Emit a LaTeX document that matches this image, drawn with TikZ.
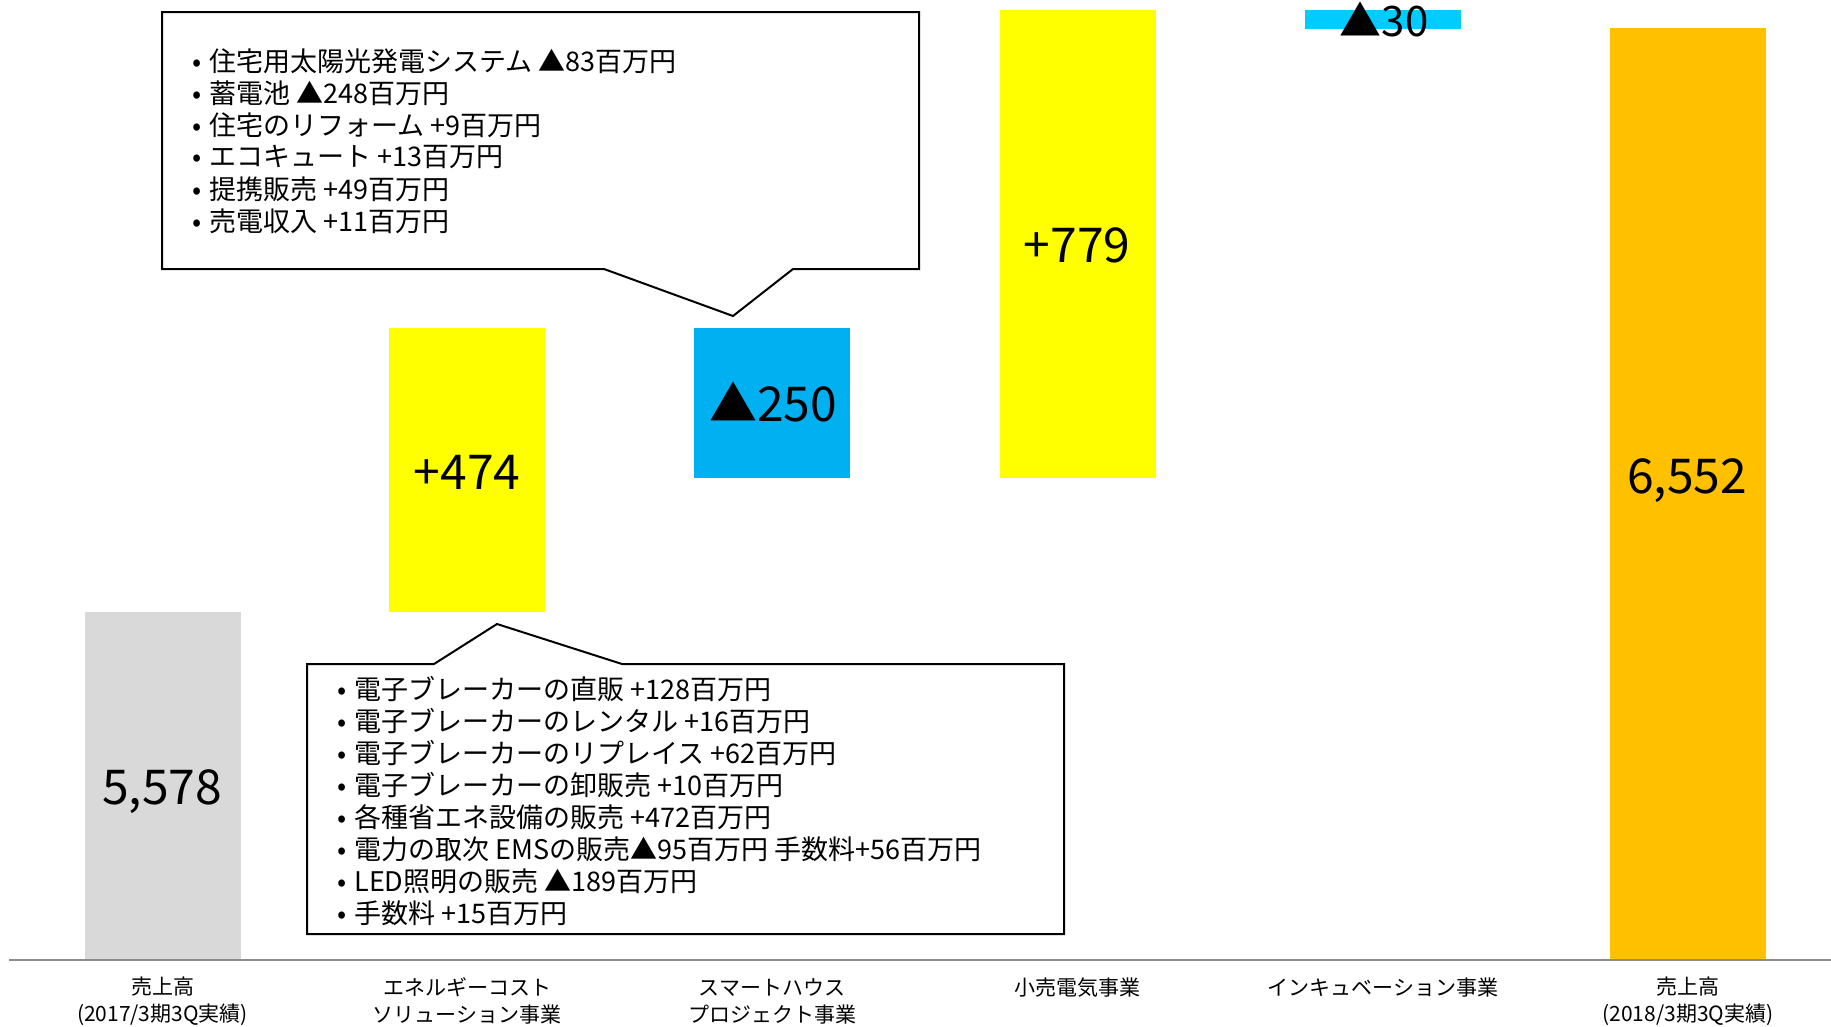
\documentclass[tikz,border=0pt]{standalone}
\usepackage{fontspec}
\setmainfont{Noto Sans CJK JP}
\definecolor{barGray}{HTML}{D9D9D9}
\definecolor{barYellow}{HTML}{FFFF00}
\definecolor{barBlue}{HTML}{00B0F0}
\definecolor{barCyan}{HTML}{00CCFF}
\definecolor{barOrange}{HTML}{FFC000}
\definecolor{axisGray}{HTML}{8C8C8C}
\begin{document}
\begin{tikzpicture}[x=1pt,y=-1pt,
  bar/.style={draw=none,inner sep=0pt,minimum width=156pt},
  num/.style={font=\fontsize{48}{52}\selectfont,inner sep=0pt},
  cat/.style={font=\fontsize{21}{27}\selectfont,align=center,inner sep=0pt},
  item/.style={font=\fontsize{27}{30}\selectfont,anchor=west,inner sep=0pt},
  callout/.style={draw=black,line width=2pt,fill=white,line join=miter},
  axisline/.style={draw=axisGray,line width=2.5pt}]
\useasboundingbox (0,0) rectangle (1831,1026);
% bars
\node[bar,fill=barGray,minimum height=348pt] (b1) at (162.5,786) {};
\node[bar,fill=barYellow,minimum height=284pt] (b2) at (467,470) {};
\node[bar,fill=barBlue,minimum height=150pt] (b3) at (772,403) {};
\node[bar,fill=barYellow,minimum height=468pt] (b4) at (1077.5,244) {};
\node[bar,fill=barCyan,minimum height=19pt] (b5) at (1383,19.5) {};
\node[bar,fill=barOrange,minimum height=932pt] (b6) at (1688,494) {};
% values
\node[num] (v1) at (162,792) {5,578};
\node[num] (v2) at (467,472) {+474};
\node[num] (v3) at (773,402) {▲250};
\node[num] (v4) at (1077,245) {+779};
\node[num,font=\fontsize{42}{46}\selectfont] (v5) at (1384,19) {▲30};
\node[num] (v6) at (1687,481) {6,552};
% axis
\coordinate (axL) at (9,960);
\coordinate (axR) at (1831,960);
\draw[axisline] (axL) -- (axR);
% categories
\node[cat] (c1) at (162.5,1001) {売上高\\(2017/3期3Q実績)};
\node[cat] (c2) at (467,1001) {エネルギーコスト\\ソリューション事業};
\node[cat] (c3) at (772,1001) {スマートハウス\\プロジェクト事業};
\node[cat] (c4) at (1077.5,987.5) {小売電気事業};
\node[cat] (c5) at (1383,987.5) {インキュベーション事業};
\node[cat] (c6) at (1688,1001) {売上高\\(2018/3期3Q実績)};
% callout 1
\coordinate (p1) at (733,316);
\draw[callout] (162,12) -- (919,12) -- (919,269) -- (793,269) -- (p1) -- (604,269) -- (162,269) -- cycle;
\foreach \t [count=\i] in {住宅用太陽光発電システム ▲83百万円,蓄電池 ▲248百万円,住宅のリフォーム +9百万円,エコキュート +13百万円,提携販売 +49百万円,売電収入 +11百万円}
  \node[item] (ka\i) at (192,61+32*\i-32) {•\hspace{8pt}\t};
% callout 2
\coordinate (p2) at (497,624);
\draw[callout] (307,664) -- (434,664) -- (p2) -- (622,664) -- (1064,664) -- (1064,934) -- (307,934) -- cycle;
\foreach \t [count=\i] in {電子ブレーカーの直販 +128百万円,電子ブレーカーのレンタル +16百万円,電子ブレーカーのリプレイス +62百万円,電子ブレーカーの卸販売 +10百万円,各種省エネ設備の販売 +472百万円,電力の取次 EMSの販売▲95百万円 手数料+56百万円,LED照明の販売 ▲189百万円,手数料 +15百万円}
  \node[item] (kb\i) at (337,689+32.1*\i-32.1) {•\hspace{8pt}\t};
\end{tikzpicture}
\end{document}
